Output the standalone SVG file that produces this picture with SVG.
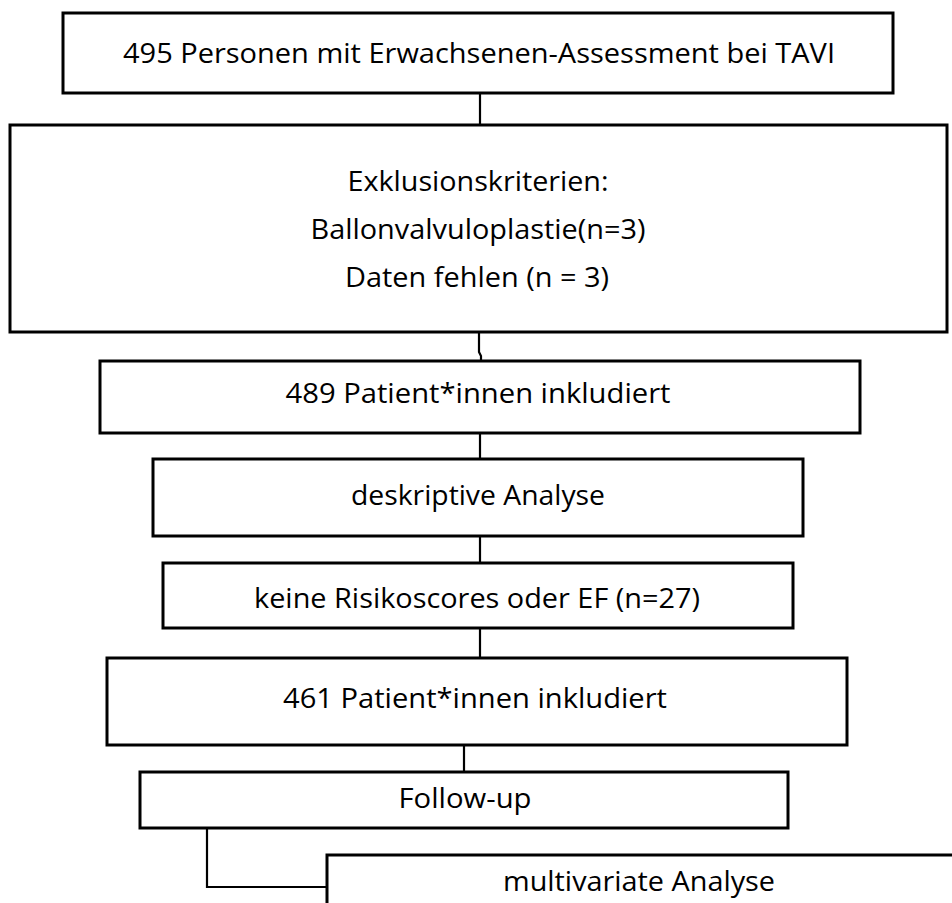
<svg xmlns="http://www.w3.org/2000/svg" width="952" height="903" viewBox="0 0 952 903">
<style>
.b{fill:#fff;stroke:#000;stroke-width:3}
.c{fill:none;stroke:#000;stroke-width:2.2}
text{font-family:"Open Sans","Noto Sans","Liberation Sans",sans-serif;font-size:28px;fill:#000;text-anchor:middle;dominant-baseline:central}
</style>
<rect width="952" height="903" fill="#fff"/>
<g id="connectors">
<path class="c" d="M480 93V125"/>
<path class="c" d="M479 332V352L481 356V361"/>
<path class="c" d="M480 433V459"/>
<path class="c" d="M480 536V563"/>
<path class="c" d="M480 628V658"/>
<path class="c" d="M464 745V772"/>
<path class="c" d="M207 828V887H327"/>
</g>
<g id="n1"><rect class="b" x="63" y="13" width="830" height="80"/><text x="479" y="52" textLength="712" lengthAdjust="spacingAndGlyphs">495 Personen mit Erwachsenen-Assessment bei TAVI</text></g>
<g id="n2"><rect class="b" x="10" y="125" width="937" height="207"/>
<text x="478" y="180" textLength="261" lengthAdjust="spacingAndGlyphs">Exklusionskriterien:</text>
<text x="478" y="228" textLength="335" lengthAdjust="spacingAndGlyphs">Ballonvalvuloplastie(n=3)</text>
<text x="477" y="276" textLength="264" lengthAdjust="spacingAndGlyphs">Daten fehlen (n = 3)</text></g>
<g id="n3"><rect class="b" x="100" y="361" width="760" height="72"/><text x="478" y="392" textLength="385" lengthAdjust="spacingAndGlyphs">489 Patient*innen inkludiert</text></g>
<g id="n4"><rect class="b" x="153" y="459" width="650" height="77"/><text x="478" y="494" textLength="254" lengthAdjust="spacingAndGlyphs">deskriptive Analyse</text></g>
<g id="n5"><rect class="b" x="163" y="563" width="630" height="65"/><text x="477" y="597" textLength="446" lengthAdjust="spacingAndGlyphs">keine Risikoscores oder EF (n=27)</text></g>
<g id="n6"><rect class="b" x="107" y="658" width="740" height="87"/><text x="475" y="697" textLength="384" lengthAdjust="spacingAndGlyphs">461 Patient*innen inkludiert</text></g>
<g id="n7"><rect class="b" x="140" y="772" width="648" height="56"/><text x="465" y="797" textLength="133" lengthAdjust="spacingAndGlyphs">Follow-up</text></g>
<g id="n8"><rect class="b" x="327" y="855" width="640" height="60"/><text x="639" y="880" textLength="272" lengthAdjust="spacingAndGlyphs">multivariate Analyse</text></g>
</svg>
